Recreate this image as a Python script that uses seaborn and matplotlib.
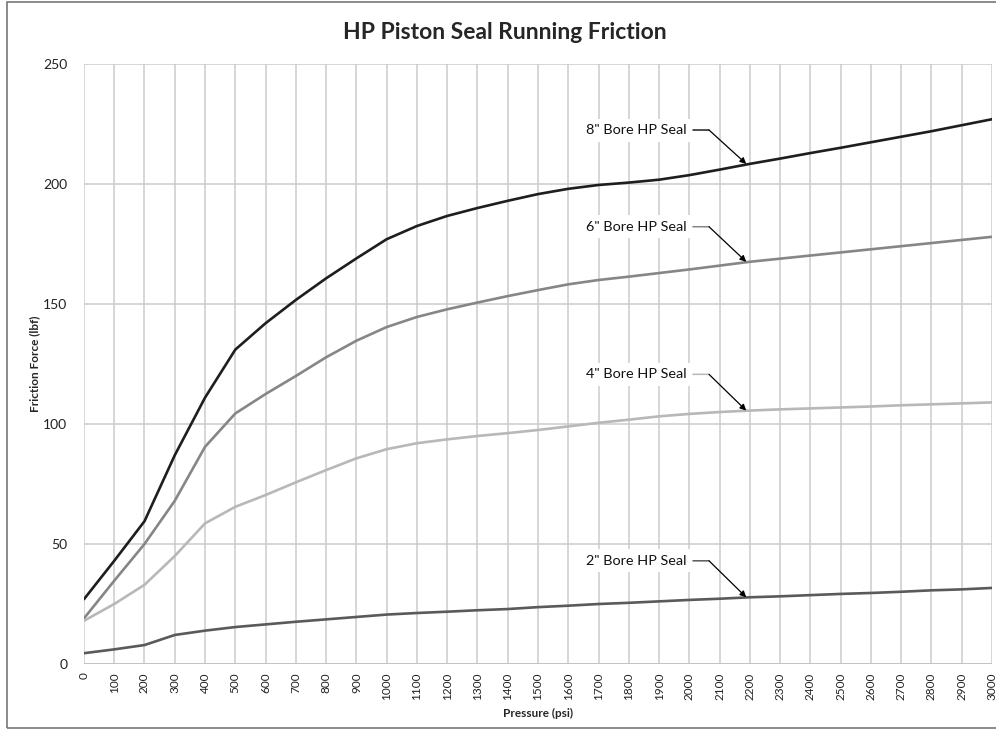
import numpy as np
import pandas as pd
import matplotlib
matplotlib.use('Agg')
import matplotlib.pyplot as plt
import seaborn as sns
from matplotlib.patches import Rectangle

pressure = list(range(0, 3001, 100))

bore_8 = [27, 43, 59.5, 87, 111, 131, 142, 151.7, 160.7, 169, 177, 182.5, 186.7, 190,
          193, 195.8, 198, 199.6, 200.6, 201.8, 203.7, 206, 208.4, 210.6, 212.9, 215.1,
          217.4, 219.7, 222, 224.5, 227]
bore_6 = [19, 34.7, 50, 68, 90.5, 104.4, 112.5, 120, 127.8, 134.7, 140.4, 144.6, 147.8,
          150.6, 153.3, 155.8, 158.2, 160, 161.4, 162.9, 164.4, 166, 167.6, 168.9, 170.2,
          171.5, 172.8, 174.1, 175.4, 176.7, 178]
bore_4 = [18, 25, 33, 45, 58.6, 65.5, 70.4, 75.7, 80.8, 85.7, 89.5, 92, 93.6, 95, 96.2,
          97.5, 99, 100.5, 101.8, 103.2, 104.2, 105, 105.6, 106.1, 106.5, 106.9, 107.3,
          107.8, 108.2, 108.6, 109]
bore_2 = [4.5, 6.1, 7.9, 12.1, 13.9, 15.4, 16.5, 17.6, 18.6, 19.6, 20.6, 21.25, 21.8,
          22.4, 22.9, 23.7, 24.3, 25, 25.5, 26.1, 26.7, 27.2, 27.8, 28.2, 28.7, 29.2,
          29.6, 30.1, 30.7, 31.1, 31.7]

series_names = ['8" Bore HP Seal', '6" Bore HP Seal', '4" Bore HP Seal', '2" Bore HP Seal']
series_values = [bore_8, bore_6, bore_4, bore_2]
series_colors = ['#1e1e1e', '#868686', '#b8b8b8', '#5a5a5a']
label_y = [222.5, 182.2, 120.7, 43]

x_ticks = list(range(0, 3001, 100))
y_ticks = [0, 50, 100, 150, 200, 250]

df = pd.concat([pd.DataFrame({'Pressure': pressure, 'Friction': v, 'Seal': n})
                for n, v in zip(series_names, series_values)], ignore_index=True)

sns.set_theme(style="white")
plt.rcParams['font.family'] = ['Lato', 'DejaVu Sans']

fig = plt.figure(figsize=(9.96, 7.30), dpi=100)
ax = fig.add_axes([0.0843, 0.0904, 0.9117, 0.8219])

sns.lineplot(data=df, x='Pressure', y='Friction', hue='Seal', hue_order=series_names,
             palette=dict(zip(series_names, series_colors)), linewidth=1.9,
             legend=False, ax=ax, zorder=3, solid_joinstyle='round', solid_capstyle='round')

ax.set_xlim(0, 3000)
ax.set_ylim(0, 250)
ax.set_xticks(x_ticks)
ax.set_yticks(y_ticks)
ax.set_xticklabels([str(t) for t in x_ticks], rotation=90, fontsize=8.5, color='#222222')
ax.set_yticklabels([str(t) for t in y_ticks], fontsize=10, color='#222222')
ax.tick_params(axis='x', length=0, pad=6)
ax.tick_params(axis='y', length=0, pad=12)
ax.grid(True, color='#cbcbcb', linewidth=1.1)
for s in ax.spines.values():
    s.set_visible(False)
ax.axhline(0, color='#c0c0c0', lw=1.2, zorder=2)

ax.set_xlabel('Pressure (psi)', fontsize=8.5, fontweight='bold', labelpad=6)
ax.set_ylabel('Friction Force (lbf)', fontsize=8.5, fontweight='bold', labelpad=2)
fig.suptitle('HP Piston Seal Running Friction', fontsize=16.5, fontweight='bold',
             x=0.507, y=0.97)

idx_2200 = pressure.index(2200)
for name, vals, col, ly in zip(series_names, series_values, series_colors, label_y):
    ax.text(1990, ly, name, ha='right', va='center', fontsize=10.4, color='#111111',
            bbox=dict(facecolor='white', edgecolor='none', pad=4), zorder=4)
    ax.annotate('', xy=(2065, ly), xytext=(2012, ly),
                arrowprops=dict(arrowstyle='-', color=col, lw=1.1, shrinkA=0, shrinkB=0),
                zorder=5)
    ax.annotate('', xy=(2188, vals[idx_2200]), xytext=(2065, ly),
                arrowprops=dict(arrowstyle='-|>', color='black', lw=0.9,
                                mutation_scale=9, shrinkA=0, shrinkB=0),
                zorder=5)

fig.patches.append(Rectangle((0.007, 0.003), 1.0, 0.994, transform=fig.transFigure,
                             fill=False, edgecolor='#777777', lw=1.2))

fig.savefig('out.png', dpi=100)
plt.close(fig)
